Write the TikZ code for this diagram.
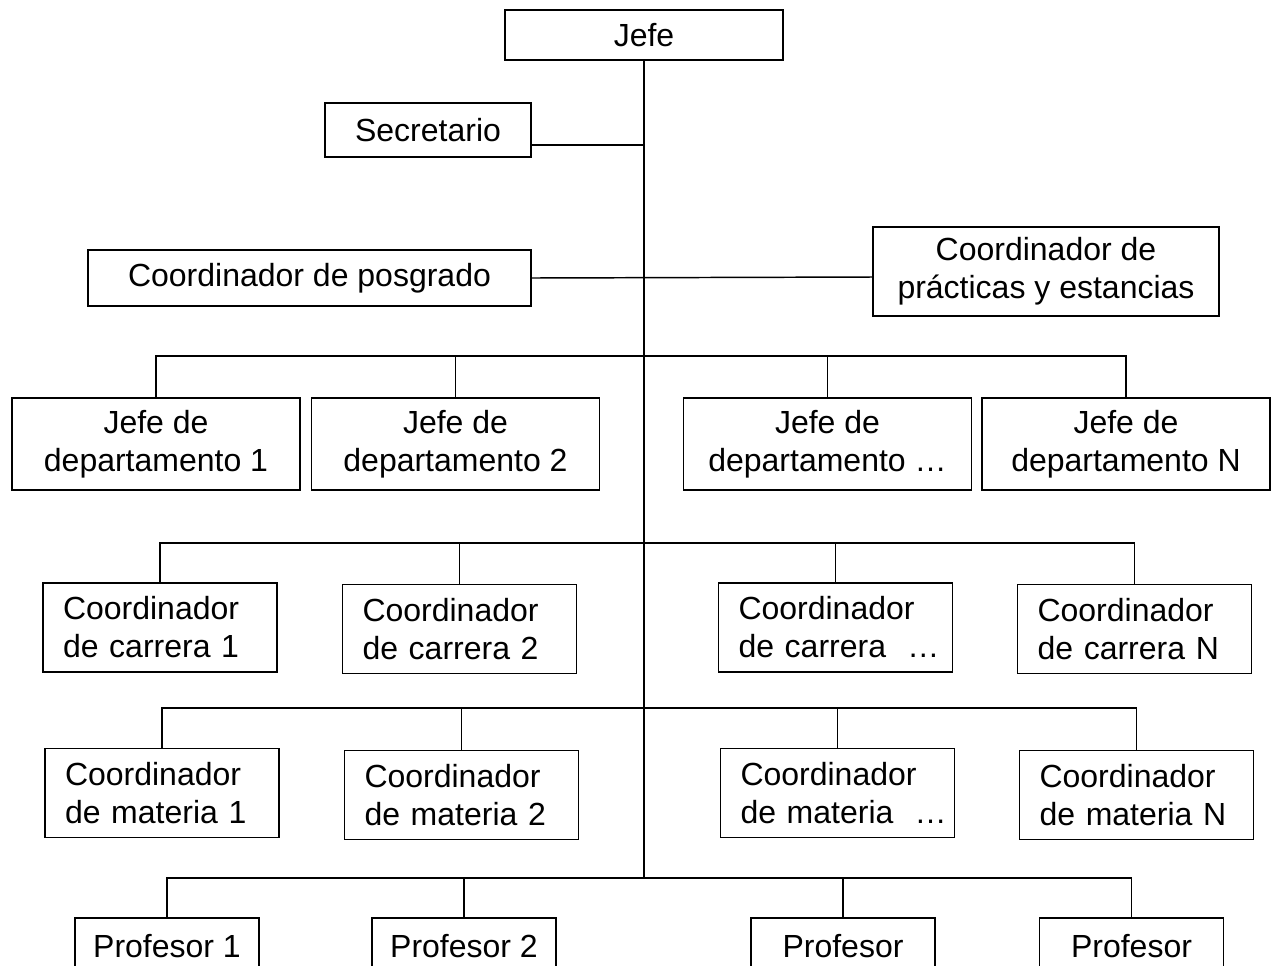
\documentclass[tikz,border=0pt]{standalone}
\usepackage{fontspec}
\setmainfont{Liberation Sans}
\usetikzlibrary{positioning}

\begin{document}
\begin{tikzpicture}[
  x=0.75pt, y=-0.75pt,
  box/.style={draw, line width=1.1pt, inner sep=0pt, align=center, font=\fontsize{24}{28.5}\selectfont},
  deptbox/.style={box, minimum width=216pt, minimum height=69pt},
  coordbox/.style={box, align=left, inner xsep=15pt, text width=145.5pt, minimum height=67pt},
  profbox/.style={box, minimum width=138pt, minimum height=42pt},
  link/.style={line width=1.1pt}
]
\useasboundingbox (0,0) rectangle (1271,965);
\clip (0,0) rectangle (1271,965);

% top of the chart
\node[box, minimum width=208.5pt, minimum height=37.5pt] (jefe) at (644,35) {Jefe};
\node[box, minimum width=154.5pt, minimum height=40.5pt] (secre) at (428,130) {Secretario};
\node[box, minimum width=332.25pt, minimum height=42pt] (posg) at (309.5,278) {Coordinador de posgrado};
\node[box, minimum width=259.5pt, minimum height=66.75pt] (pract) at (1046,271.5) {Coordinador de\\prácticas y estancias};

% points on the trunk
\coordinate (tsec) at (644,145);
\coordinate (tposg) at (644,277);
\coordinate (tdep) at (644,356);
\coordinate (tcar) at (644,543);
\coordinate (tmat) at (644,708);
\coordinate (tprof) at (644,878);

% departamentos
\node[deptbox] (dep1) at (156,444) {Jefe de\\departamento 1};
\node[deptbox] (dep2) at (455.5,444) {Jefe de\\departamento 2};
\node[deptbox] (dep3) at (827.5,444) {Jefe de\\departamento …};
\node[deptbox] (dep4) at (1126,444) {Jefe de\\departamento N};

% carreras
\node[coordbox] (car1) at (160,627.5) {Coordinador\\de carrera 1};
\node[coordbox] (car2) at (459.5,629) {Coordinador\\de carrera 2};
\node[coordbox] (car3) at (835.5,627.5) {Coordinador\\\mbox{de carrera\ \ …}};
\node[coordbox] (car4) at (1134.5,629) {Coordinador\\de carrera N};

% materias
\node[coordbox] (mat1) at (162,793) {Coordinador\\de materia 1};
\node[coordbox] (mat2) at (461.5,795) {Coordinador\\de materia 2};
\node[coordbox] (mat3) at (837.5,793) {Coordinador\\\mbox{de materia\ \ …}};
\node[coordbox] (mat4) at (1136.5,795) {Coordinador\\de materia N};

% profesores (cut off at the bottom)
\node[profbox] (prof1) at (167,946) {Profesor 1};
\node[profbox] (prof2) at (464,946) {Profesor 2};
\node[profbox] (prof3) at (843,946) {Profesor};
\node[profbox] (prof4) at (1131.5,946) {Profesor};

\draw[link] (jefe.south) -- (tprof);
\draw[link] (tsec) -- (tsec -| secre.east);
\draw[link] (posg.east) -- (tposg -| pract.west);

\draw[link] (dep1.north) |- (tdep) -| (dep4.north);
\draw[link] (dep2.north) |- (tdep);
\draw[link] (dep3.north) |- (tdep);

\draw[link] (car1.north) |- (tcar) -| (car4.north);
\draw[link] (car2.north) |- (tcar);
\draw[link] (car3.north) |- (tcar);

\draw[link] (mat1.north) |- (tmat) -| (mat4.north);
\draw[link] (mat2.north) |- (tmat);
\draw[link] (mat3.north) |- (tmat);

\draw[link] (prof1.north) |- (tprof) -| (prof4.north);
\draw[link] (prof2.north) |- (tprof);
\draw[link] (prof3.north) |- (tprof);

\end{tikzpicture}
\end{document}
